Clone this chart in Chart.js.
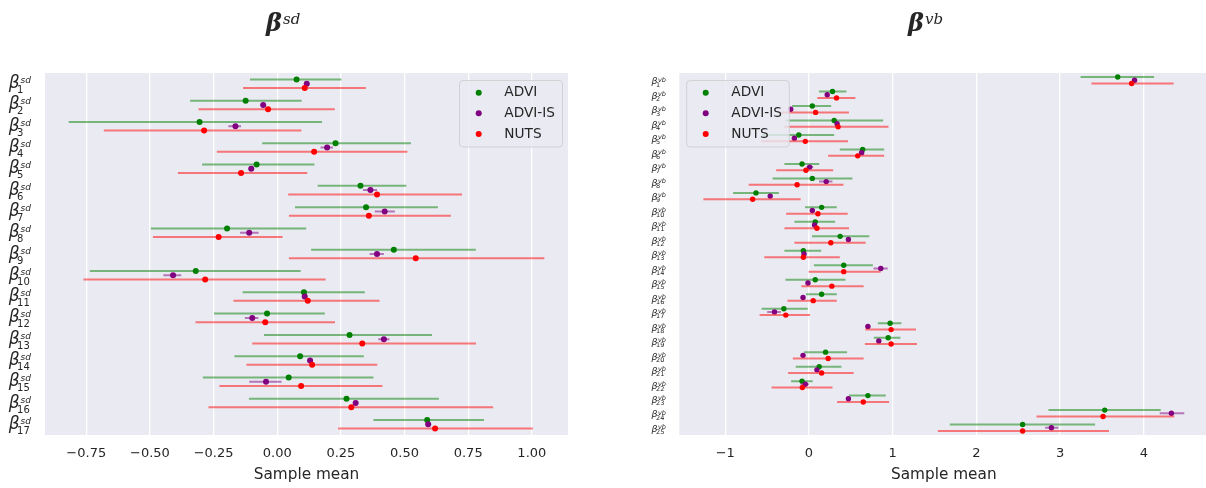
<!DOCTYPE html>
<html>
<head>
<meta charset="utf-8">
<script src="https://cdn.jsdelivr.net/npm/chart.js@4.4.0/dist/chart.umd.min.js"></script>
<style>
  html, body { margin: 0; padding: 0; background: #fff; width: 1206px; height: 488px; overflow: hidden; }
  #wrap { position: relative; width: 1206px; height: 488px; overflow: hidden; }
  canvas { position: absolute; top: 0; }
  #sdChart { left: 0; }
  #vbChart { left: 600px; }
</style>
</head>
<body>
<div id="wrap">
  <canvas id="sdChart" width="600" height="488"></canvas>
  <canvas id="vbChart" width="611" height="488"></canvas>
</div>
<script>
// ---------- β^sd : 17 coefficients ----------
const sdIndex = ['1','2','3','4','5','6','7','8','9','10','11','12','13','14','15','16','17'];

const sdAdviMean = [0.076, -0.124, -0.305, 0.229, -0.081, 0.327, 0.349, -0.197, 0.458, -0.320, 0.105, -0.040, 0.284, 0.090, 0.045, 0.272, 0.589];
const sdAdviLo   = [-0.107, -0.342, -0.819, -0.059, -0.295, 0.159, 0.070, -0.496, 0.133, -0.736, -0.136, -0.248, -0.052, -0.168, -0.292, -0.111, 0.378];
const sdAdviHi   = [0.252, 0.096, 0.176, 0.525, 0.146, 0.507, 0.631, 0.114, 0.780, 0.092, 0.344, 0.187, 0.608, 0.340, 0.378, 0.635, 0.812];

const sdIsMean = [0.116, -0.055, -0.164, 0.196, -0.102, 0.366, 0.422, -0.110, 0.392, -0.409, 0.108, -0.098, 0.419, 0.129, -0.044, 0.308, 0.593];
const sdIsLo   = [0.106, -0.065, -0.192, 0.170, -0.112, 0.337, 0.383, -0.146, 0.363, -0.447, 0.098, -0.127, 0.397, 0.119, -0.110, 0.298, 0.583];
const sdIsHi   = [0.126, -0.045, -0.142, 0.219, -0.092, 0.392, 0.462, -0.073, 0.419, -0.377, 0.118, -0.074, 0.441, 0.139, 0.017, 0.318, 0.603];

const sdNutsMean = [0.108, -0.036, -0.287, 0.145, -0.142, 0.392, 0.360, -0.230, 0.544, -0.283, 0.120, -0.047, 0.334, 0.137, 0.094, 0.291, 0.620];
const sdNutsLo   = [-0.134, -0.309, -0.681, -0.237, -0.390, 0.043, 0.046, -0.488, 0.046, -0.761, -0.172, -0.321, -0.098, -0.121, -0.227, -0.270, 0.239];
const sdNutsHi   = [0.348, 0.226, 0.095, 0.511, 0.118, 0.726, 0.682, 0.021, 1.049, 0.190, 0.402, 0.227, 0.781, 0.393, 0.413, 0.848, 1.004];

const sdTickValues = [-0.75, -0.5, -0.25, 0, 0.25, 0.5, 0.75, 1.0];
const sdTickLabels = ['\u22120.75', '\u22120.50', '\u22120.25', '0.00', '0.25', '0.50', '0.75', '1.00'];

// ---------- β^vb : 25 coefficients ----------
const vbIndex = ['1','2','3','4','5','6','7','8','9','10','11','12','13','14','15','16','17','18','19','20','21','22','23','24','25'];

const vbAdviMean = [3.688, 0.281, 0.040, 0.301, -0.122, 0.641, -0.083, 0.040, -0.633, 0.151, 0.075, 0.372, -0.067, 0.415, 0.075, 0.151, -0.300, 0.969, 0.946, 0.198, 0.122, -0.083, 0.704, 3.533, 2.552];
const vbAdviLo   = [3.244, 0.119, -0.202, -0.281, -0.562, 0.368, -0.293, -0.435, -0.906, -0.047, -0.174, 0.036, -0.293, 0.059, -0.281, -0.036, -0.566, 0.823, 0.775, -0.059, -0.158, -0.214, 0.478, 2.861, 1.682];
const vbAdviHi   = [4.122, 0.447, 0.265, 0.886, 0.301, 0.898, 0.122, 0.519, -0.360, 0.332, 0.312, 0.720, 0.146, 0.763, 0.436, 0.332, -0.015, 1.104, 1.092, 0.455, 0.388, 0.044, 0.917, 4.202, 3.418];

const vbIsMean = [3.889, 0.218, -0.218, 0.336, -0.174, 0.629, 0.008, 0.206, -0.463, 0.040, 0.067, 0.471, -0.059, 0.858, -0.012, -0.071, -0.412, 0.704, 0.834, -0.071, 0.095, -0.044, 0.471, 4.329, 2.896];
const vbIsLo   = [3.869, 0.198, -0.238, 0.316, -0.194, 0.609, -0.030, 0.120, -0.483, 0.020, 0.047, 0.451, -0.079, 0.771, -0.032, -0.091, -0.499, 0.684, 0.814, -0.091, 0.075, -0.100, 0.451, 4.190, 2.821];
const vbIsHi   = [3.909, 0.238, -0.198, 0.356, -0.154, 0.649, 0.050, 0.280, -0.443, 0.060, 0.087, 0.491, -0.039, 0.941, 0.008, -0.051, -0.336, 0.724, 0.854, -0.051, 0.115, 0.000, 0.491, 4.483, 2.979];

const vbNutsMean = [3.854, 0.329, 0.079, 0.348, -0.044, 0.582, -0.036, -0.142, -0.673, 0.107, 0.095, 0.261, -0.067, 0.415, 0.273, 0.051, -0.277, 0.981, 0.981, 0.229, 0.151, -0.079, 0.649, 3.513, 2.552];
const vbNutsLo   = [3.374, 0.099, -0.344, -0.293, -0.570, 0.229, -0.392, -0.720, -1.262, -0.273, -0.293, -0.174, -0.534, -0.004, -0.091, -0.258, -0.590, 0.673, 0.668, -0.193, -0.249, -0.447, 0.336, 2.718, 1.539];
const vbNutsHi   = [4.356, 0.554, 0.478, 0.950, 0.467, 0.898, 0.289, 0.412, -0.099, 0.463, 0.478, 0.677, 0.368, 0.855, 0.653, 0.332, 0.012, 1.278, 1.290, 0.653, 0.534, 0.281, 0.957, 4.364, 3.584];

const vbTickValues = [-1, 0, 1, 2, 3, 4];
const vbTickLabels = ['\u22121', '0', '1', '2', '3', '4'];

const methodNames = ['ADVI', 'ADVI-IS', 'NUTS'];

// ---------- styling ----------
const TEXT = '#262626';
const FACE = '#EAEAF2';
const DOT = ['#008000', '#800080', '#ff0000'];
const BAR = ['rgba(0,128,0,0.5)', 'rgba(128,0,128,0.5)', 'rgba(255,0,0,0.5)'];

// interval segments: lo->hi per coefficient, broken by a null point
function intervalPoints(lo, hi, off) {
  const pts = [];
  lo.forEach((l, i) => {
    pts.push({ x: l, y: i + off }, { x: hi[i], y: i + off }, { x: hi[i], y: null });
  });
  return pts;
}
function meanPoints(mean, off) {
  return mean.map((v, i) => ({ x: v, y: i + off }));
}

function buildDatasets(series, spread, radius) {
  const ds = [];
  let order = series.length * 2;
  series.forEach((s, k) => {
    const off = (k - 1) * spread;
    ds.push({
      label: methodNames[k] + ' interval',
      data: intervalPoints(s.lo, s.hi, off),
      showLine: true, spanGaps: false,
      borderColor: BAR[k], borderWidth: 2, borderCapStyle: 'butt',
      pointRadius: 0, pointHoverRadius: 0,
      order: order--
    });
    ds.push({
      label: methodNames[k],
      data: meanPoints(s.mean, off),
      showLine: false,
      backgroundColor: DOT[k], borderColor: DOT[k],
      pointRadius: radius, pointHoverRadius: radius, pointBorderWidth: 0,
      order: order--
    });
  });
  return ds;
}

function drawBeta(ctx, xRight, yc, sup, sub, L) {
  ctx.font = `italic ${L.base}px "DejaVu Sans"`;
  const wB = ctx.measureText('\u03b2').width;
  ctx.font = `italic ${L.supSize}px "DejaVu Sans"`;
  const wSup = ctx.measureText(sup).width;
  ctx.font = `${L.subSize}px "DejaVu Sans"`;
  const wSub = ctx.measureText(sub).width;
  const total = wB + Math.max(L.supGap + wSup, L.subShift + wSub);
  const x0 = xRight - total;
  ctx.textAlign = 'left';
  ctx.textBaseline = 'alphabetic';
  ctx.font = `italic ${L.base}px "DejaVu Sans"`;
  ctx.fillText('\u03b2', x0, yc + L.baseDy);
  ctx.font = `italic ${L.supSize}px "DejaVu Sans"`;
  ctx.fillText(sup, x0 + wB + L.supGap, yc + L.supDy);
  ctx.font = `${L.subSize}px "DejaVu Sans"`;
  ctx.fillText(sub, x0 + wB + L.subShift, yc + L.subDy);
}

function drawTitle(ctx, sup, T) {
  ctx.textAlign = 'left';
  ctx.textBaseline = 'alphabetic';
  ctx.fillStyle = TEXT;
  ctx.font = `italic bold ${T.base}px "DejaVu Serif"`;
  ctx.fillText('\u03b2', T.x, T.baseline);
  const w = ctx.measureText('\u03b2').width;
  ctx.font = `italic ${T.sup}px "DejaVu Serif"`;
  ctx.fillText(sup, T.x + w + T.gap, T.supBaseline);
}

function drawLegend(ctx, G) {
  const r = 3.5;
  ctx.beginPath();
  ctx.moveTo(G.x + r, G.y);
  ctx.lineTo(G.x + G.w - r, G.y);
  ctx.arcTo(G.x + G.w, G.y, G.x + G.w, G.y + r, r);
  ctx.lineTo(G.x + G.w, G.y + G.h - r);
  ctx.arcTo(G.x + G.w, G.y + G.h, G.x + G.w - r, G.y + G.h, r);
  ctx.lineTo(G.x + r, G.y + G.h);
  ctx.arcTo(G.x, G.y + G.h, G.x, G.y + G.h - r, r);
  ctx.lineTo(G.x, G.y + r);
  ctx.arcTo(G.x, G.y, G.x + r, G.y, r);
  ctx.closePath();
  ctx.fillStyle = 'rgba(234,234,242,0.8)';
  ctx.fill();
  ctx.strokeStyle = 'rgba(204,204,204,0.8)';
  ctx.lineWidth = 1;
  ctx.stroke();
  methodNames.forEach((name, k) => {
    const y = G.rowY[k];
    ctx.beginPath();
    ctx.arc(G.markerX, y, G.r, 0, Math.PI * 2);
    ctx.fillStyle = DOT[k];
    ctx.fill();
    ctx.fillStyle = TEXT;
    ctx.font = `${G.font}px "DejaVu Sans"`;
    ctx.textAlign = 'left';
    ctx.textBaseline = 'middle';
    ctx.fillText(name, G.textX, y);
  });
}

function panelPlugin(P) {
  return {
    id: 'panel_' + P.sup,
    beforeDraw(chart) {
      const { ctx, chartArea: a } = chart;
      ctx.save();
      ctx.fillStyle = FACE;
      ctx.fillRect(a.left, a.top, a.right - a.left, a.bottom - a.top);
      ctx.restore();
    },
    afterDraw(chart) {
      const ctx = chart.ctx;
      const ys = chart.scales.y;
      ctx.save();
      ctx.fillStyle = TEXT;
      P.index.forEach((sub, i) => drawBeta(ctx, P.labelRight, ys.getPixelForValue(i), P.sup, sub, P.label));
      drawTitle(ctx, P.sup, P.title);
      drawLegend(ctx, P.legend);
      ctx.restore();
    }
  };
}

function makeChart(canvasId, P) {
  return new Chart(document.getElementById(canvasId), {
    type: 'scatter',
    data: { datasets: buildDatasets(P.series, P.spread, P.radius) },
    options: {
      responsive: false,
      animation: false,
      devicePixelRatio: 1,
      events: [],
      layout: { padding: { top: 73, right: P.padRight, left: 0, bottom: 0 } },
      plugins: { legend: { display: false }, tooltip: { enabled: false } },
      scales: {
        x: {
          type: 'linear',
          min: P.xMin, max: P.xMax,
          border: { display: false },
          grid: { color: '#ffffff', lineWidth: 1.3, drawTicks: false },
          afterBuildTicks: s => { s.ticks = P.tickValues.map(v => ({ value: v })); },
          afterFit: s => { s.height = 53; s.paddingLeft = 0; s.paddingRight = 0; },
          ticks: {
            padding: 11,
            color: TEXT,
            font: { family: 'DejaVu Sans', size: 13 },
            maxRotation: 0,
            autoSkip: false,
            callback: (v, i) => P.tickLabels[i]
          },
          title: {
            display: true, text: 'Sample mean', color: TEXT,
            font: { family: 'DejaVu Sans', size: 15.3 },
            padding: { top: 0, bottom: 4 }
          }
        },
        y: {
          type: 'linear',
          reverse: true,
          min: -0.5, max: P.index.length - 0.5,
          border: { display: false },
          grid: { display: false },
          ticks: { display: false },
          afterFit: s => { s.width = P.leftWidth; }
        }
      }
    },
    plugins: [panelPlugin(P)]
  });
}

makeChart('sdChart', {
  sup: 'sd',
  index: sdIndex,
  series: [
    { mean: sdAdviMean, lo: sdAdviLo, hi: sdAdviHi },
    { mean: sdIsMean, lo: sdIsLo, hi: sdIsHi },
    { mean: sdNutsMean, lo: sdNutsLo, hi: sdNutsHi }
  ],
  spread: 0.2, radius: 3,
  xMin: -0.912, xMax: 1.142,
  tickValues: sdTickValues, tickLabels: sdTickLabels,
  padRight: 32, leftWidth: 45,
  labelRight: 31,
  label: { base: 17, supSize: 9, subSize: 10, baseDy: 4.5, supDy: -0.5, subDy: 9.5, supGap: 1, subShift: -2.5 },
  title: { x: 266, base: 24, baseline: 31, sup: 15, supBaseline: 23.5, gap: 1 },
  legend: { x: 459.5, y: 80.5, w: 103, h: 66.5, markerX: 478.7, textX: 504.3, rowY: [92.7, 113.3, 134], r: 3, font: 13.7 }
});

makeChart('vbChart', {
  sup: 'vb',
  index: vbIndex,
  series: [
    { mean: vbAdviMean, lo: vbAdviLo, hi: vbAdviHi },
    { mean: vbIsMean, lo: vbIsLo, hi: vbIsHi },
    { mean: vbNutsMean, lo: vbNutsLo, hi: vbNutsHi }
  ],
  spread: 0.22, radius: 2.7,
  xMin: -1.549, xMax: 4.77,
  tickValues: vbTickValues, tickLabels: vbTickLabels,
  padRight: 0, leftWidth: 79.3,
  labelRight: 66,
  label: { base: 9.5, supSize: 6.5, subSize: 6.5, baseDy: 4.2, supDy: 1.3, subDy: 6.3, supGap: 0.5, subShift: -1.5 },
  title: { x: 308, base: 24, baseline: 31, sup: 15, supBaseline: 23.5, gap: 1 },
  legend: { x: 86.7, y: 80.5, w: 102.6, h: 66.5, markerX: 105.7, textX: 131.3, rowY: [92.7, 113.3, 134], r: 3, font: 13.7 }
});
</script>
</body>
</html>
